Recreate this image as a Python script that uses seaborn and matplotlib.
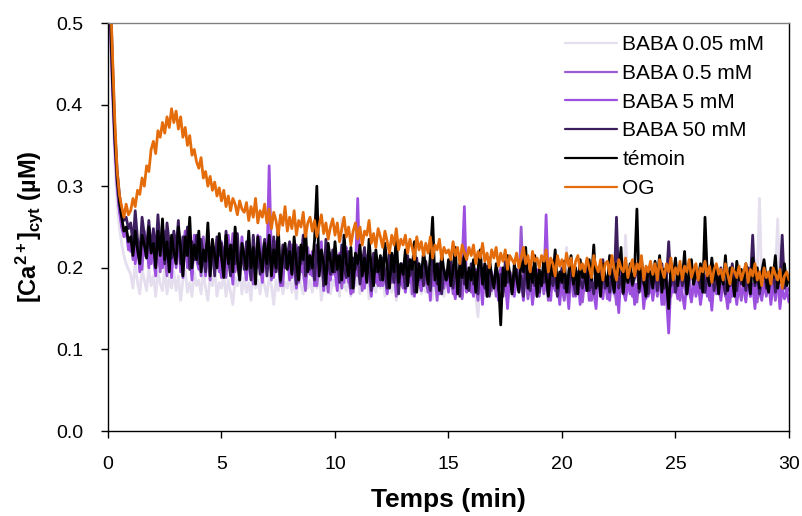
import numpy as np
import pandas as pd
import matplotlib
matplotlib.use("Agg")
import matplotlib.pyplot as plt
import seaborn as sns

# time axis (min), one sample every 0.1 min; values below in nM (thousandths of µM)
temps = np.round(np.arange(0, 30.0001, 0.1), 2)

temoin = [
    620, 520, 430, 360, 310, 280, 262, 245, 250, 232,
    238, 215, 245, 222, 205, 240, 228, 212, 250, 218,
    230, 200, 245, 215, 260, 210, 232, 195, 240, 220,
    205, 250, 225, 190, 238, 215, 262, 200, 228, 210,
    245, 195, 222, 208, 255, 190, 235, 215, 200, 242,
    212, 188, 240, 205, 228, 195, 250, 210, 185, 230,
    215, 198, 245, 200, 225, 180, 238, 212, 195, 230,
    205, 240, 190, 222, 200, 252, 185, 215, 230, 198,
    220, 192, 238, 205, 185, 228, 210, 248, 195, 215,
    200, 235, 300, 190, 222, 205, 180, 230, 208, 195,
    232, 198, 215, 185, 240, 205, 190, 225, 175, 218,
    205, 228, 190, 212, 182, 235, 200, 178, 222, 195,
    215, 185, 230, 200, 175, 218, 195, 240, 182, 205,
    192, 222, 178, 210, 198, 232, 170, 205, 188, 220,
    200, 180, 215, 262, 185, 205, 172, 220, 195, 185,
    210, 178, 198, 225, 168, 205, 188, 215, 175, 200,
    185, 210, 170, 198, 222, 180, 205, 165, 212, 190,
    175, 205, 185, 130, 200, 178, 215, 190, 168, 205,
    188, 170, 210, 195, 225, 175, 200, 182, 215, 165,
    198, 178, 212, 188, 165, 205, 190, 222, 175, 195,
    182, 208, 170, 195, 215, 180, 200, 168, 210, 188,
    195, 172, 210, 185, 228, 175, 198, 165, 205, 190,
    178, 215, 188, 170, 205, 192, 225, 170, 198, 182,
    205, 180, 198, 272, 175, 210, 185, 165, 200, 192,
    175, 208, 188, 215, 170, 198, 182, 150, 205, 190,
    212, 178, 200, 185, 220, 168, 195, 210, 180, 198,
    185, 205, 170, 262, 190, 178, 212, 185, 200, 168,
    195, 180, 215, 172, 200, 188, 165, 208, 185, 198,
    178, 205, 190, 168, 212, 182, 200, 175, 195, 210,
    185, 170, 200, 188, 215, 175, 195, 182, 205, 178,
    190,
]

baba_50 = [
    630, 540, 450, 370, 320, 290, 270, 258, 262, 248,
    255, 228, 270, 235, 215, 262, 240, 225, 258, 220,
    248, 215, 265, 225, 240, 205, 255, 230, 212, 245,
    222, 258, 205, 238, 215, 250, 198, 232, 210, 240,
    205, 235, 218, 195, 245, 210, 228, 190, 238, 215,
    230, 200, 245, 212, 190, 228, 205, 242, 195, 220,
    198, 232, 210, 185, 240, 205, 225, 192, 215, 235,
    190, 220, 205, 238, 195, 212, 182, 228, 200, 215,
    232, 195, 212, 180, 225, 205, 240, 190, 215, 198,
    210, 185, 228, 200, 218, 178, 235, 205, 192, 222,
    195, 215, 182, 228, 200, 188, 220, 175, 212, 198,
    215, 180, 205, 225, 190, 210, 172, 218, 195, 205,
    185, 212, 195, 175, 220, 200, 182, 210, 168, 205,
    198, 175, 215, 190, 205, 170, 212, 185, 200, 178,
    208, 188, 172, 215, 195, 180, 205, 168, 198, 185,
    192, 210, 175, 200, 185, 165, 212, 180, 195, 172,
    205, 180, 195, 168, 210, 185, 175, 202, 165, 190,
    180, 200, 172, 192, 165, 208, 182, 195, 170, 188,
    198, 175, 190, 165, 205, 182, 172, 200, 178, 192,
    170, 195, 182, 205, 168, 190, 178, 198, 165, 185,
    200, 175, 190, 170, 205, 182, 168, 195, 185, 175,
    190, 205, 172, 185, 168, 200, 178, 192, 210, 175,
    185, 170, 198, 180, 262, 175, 190, 168, 205, 182,
    195, 178, 188, 205, 170, 192, 180, 200, 168, 190,
    180, 198, 172, 190, 205, 175, 185, 232, 178, 195,
    170, 188, 200, 178, 195, 168, 185, 205, 180, 192,
    188, 175, 198, 170, 192, 182, 205, 172, 190, 178,
    200, 182, 168, 195, 178, 205, 185, 172, 198, 180,
    190, 172, 200, 185, 240, 178, 195, 168, 188, 202,
    175, 192, 180, 198, 170, 188, 182, 240, 175, 190,
    185,
]

baba_5 = [
    600, 500, 420, 350, 300, 270, 250, 240, 245, 228,
    220, 248, 205, 235, 195, 242, 215, 230, 200, 238,
    212, 190, 240, 218, 200, 245, 208, 225, 188, 232,
    205, 238, 195, 220, 245, 200, 228, 185, 240, 210,
    198, 230, 215, 190, 242, 205, 222, 195, 235, 210,
    188, 225, 200, 240, 208, 180, 230, 212, 195, 238,
    205, 185, 225, 200, 218, 190, 240, 205, 182, 222,
    200, 325, 210, 188, 232, 205, 178, 225, 200, 215,
    185, 228, 200, 175, 215, 195, 235, 180, 208, 192,
    220, 178, 205, 190, 232, 172, 210, 198, 185, 215,
    195, 172, 218, 200, 182, 225, 190, 168, 210, 195,
    285, 185, 205, 175, 215, 190, 165, 208, 182, 200,
    178, 210, 190, 168, 205, 185, 215, 172, 198, 180,
    205, 170, 192, 182, 210, 165, 198, 185, 172, 205,
    182, 195, 160, 205, 178, 190, 168, 212, 180, 192,
    170, 200, 178, 162, 195, 182, 205, 275, 170, 190,
    185, 165, 198, 175, 190, 155, 205, 180, 168, 195,
    178, 192, 160, 200, 172, 185, 150, 195, 178, 165,
    195, 172, 185, 160, 205, 178, 190, 155, 182, 198,
    165, 190, 175, 265, 180, 160, 195, 172, 185, 155,
    190, 168, 182, 150, 198, 175, 165, 190, 155, 185,
    172, 195, 160, 182, 170, 150, 192, 178, 162, 188,
    175, 160, 190, 168, 182, 145, 195, 172, 160, 185,
    168, 188, 155, 180, 172, 192, 150, 178, 165, 185,
    160, 182, 170, 190, 155, 178, 165, 120, 185, 170,
    178, 162, 190, 168, 150, 185, 172, 160, 188, 165,
    182, 155, 175, 190, 165, 180, 148, 185, 170, 178,
    160, 185, 172, 150, 190, 165, 178, 155, 182, 168,
    175, 158, 188, 165, 180, 150, 185, 170, 160, 182,
    168, 185, 155, 178, 165, 190, 150, 175, 162, 172,
    158,
]

baba_05 = [
    610, 510, 425, 355, 305, 272, 255, 238, 248, 222,
    235, 210, 240, 218, 228, 198, 245, 212, 225, 205,
    240, 205, 222, 195, 235, 212, 190, 230, 208, 242,
    200, 225, 210, 188, 240, 205, 218, 192, 232, 210,
    225, 190, 238, 205, 212, 185, 230, 200, 220, 195,
    232, 205, 188, 225, 210, 242, 195, 215, 185, 228,
    210, 192, 230, 205, 180, 222, 200, 238, 190, 212,
    198, 225, 185, 215, 200, 235, 192, 178, 220, 205,
    215, 188, 205, 228, 182, 210, 195, 172, 225, 200,
    190, 215, 178, 205, 225, 185, 200, 170, 218, 192,
    208, 185, 200, 175, 220, 195, 182, 212, 170, 200,
    190, 205, 172, 198, 185, 215, 168, 200, 188, 178,
    202, 178, 195, 170, 210, 182, 198, 165, 192, 185,
    175, 200, 182, 208, 168, 190, 178, 205, 172, 195,
    185, 170, 198, 178, 192, 160, 205, 182, 175, 195,
    180, 195, 168, 188, 175, 205, 162, 190, 178, 185,
    170, 192, 180, 160, 198, 175, 188, 165, 195, 172,
    190, 165, 182, 198, 170, 185, 158, 195, 178, 168,
    185, 172, 250, 175, 190, 162, 185, 178, 195, 165,
    178, 192, 168, 185, 160, 198, 175, 182, 165, 190,
    175, 160, 188, 172, 195, 165, 182, 170, 190, 158,
    185, 172, 195, 160, 180, 170, 192, 165, 178, 185,
    162, 190, 175, 182, 155, 192, 170, 185, 165, 178,
    190, 165, 180, 158, 188, 172, 195, 162, 182, 170,
    178, 190, 165, 185, 170, 155, 188, 175, 165, 192,
    170, 182, 160, 195, 175, 168, 185, 158, 180, 172,
    188, 165, 180, 170, 192, 160, 182, 175, 168, 190,
    172, 185, 165, 178, 158, 190, 170, 182, 175, 160,
    185, 170, 192, 165, 180, 175, 158, 188, 170, 182,
    165, 180, 172, 188, 160, 182, 175, 168, 190, 170,
    175,
]

baba_005 = [
    600, 490, 400, 330, 280, 250, 230, 215, 205, 198,
    192, 175, 205, 182, 168, 198, 185, 172, 200, 178,
    190, 165, 195, 180, 172, 200, 168, 188, 175, 195,
    172, 190, 160, 185, 198, 170, 182, 165, 195, 178,
    185, 168, 195, 175, 160, 190, 178, 198, 165, 182,
    175, 192, 165, 185, 170, 155, 188, 178, 195, 168,
    188, 170, 182, 160, 198, 175, 185, 168, 192, 178,
    165, 190, 178, 155, 185, 172, 195, 168, 182, 175,
    192, 170, 185, 162, 198, 178, 168, 190, 175, 185,
    170, 188, 175, 195, 160, 182, 172, 190, 168, 185,
    178, 195, 165, 260, 180, 172, 192, 165, 185, 178,
    190, 168, 182, 175, 195, 162, 185, 178, 170, 192,
    175, 188, 165, 182, 198, 170, 185, 160, 190, 178,
    182, 170, 192, 175, 165, 188, 178, 195, 168, 182,
    170, 188, 175, 162, 195, 180, 172, 188, 165, 185,
    192, 175, 182, 168, 190, 178, 165, 185, 175, 195,
    172, 185, 165, 140, 188, 178, 170, 192, 180, 168,
    185, 175, 192, 168, 182, 170, 188, 178, 165, 190,
    178, 192, 170, 185, 175, 195, 168, 182, 172, 188,
    170, 185, 178, 192, 165, 182, 175, 190, 170, 185,
    188, 175, 225, 170, 185, 178, 192, 168, 182, 175,
    180, 195, 170, 185, 172, 190, 178, 168, 188, 180,
    172, 188, 180, 165, 195, 175, 185, 170, 240, 178,
    190, 175, 185, 168, 182, 195, 172, 188, 178, 170,
    185, 172, 192, 180, 168, 188, 175, 182, 170, 192,
    178, 190, 170, 185, 175, 165, 188, 180, 192, 172,
    182, 170, 188, 175, 195, 180, 168, 190, 175, 185,
    175, 192, 180, 168, 185, 178, 190, 172, 182, 195,
    170, 185, 175, 190, 180, 168, 188, 285, 178, 185,
    192, 175, 185, 170, 188, 260, 178, 182, 172, 190,
    182,
]

og = [
    620, 540, 460, 380, 320, 290, 275, 262, 278, 265,
    270, 285, 275, 295, 290, 310, 300, 325, 318, 345,
    355, 340, 368, 360, 378, 365, 385, 372, 395, 378,
    392, 370, 385, 360, 372, 350, 362, 338, 345, 330,
    322, 335, 310, 318, 300, 312, 295, 305, 288, 298,
    282, 295, 275, 288, 270, 285, 278, 265, 282, 272,
    268, 280, 258, 275, 262, 285, 255, 270, 262, 278,
    255, 272, 248, 268, 258, 240, 265, 252, 275, 245,
    262, 248, 270, 240, 258, 250, 268, 238, 255, 262,
    245, 258, 238, 252, 265, 242, 255, 235, 250, 260,
    240, 255, 232, 248, 262, 238, 250, 228, 245, 255,
    235, 250, 228, 245, 240, 258, 230, 242, 225, 248,
    238, 225, 245, 232, 218, 240, 228, 248, 222, 235,
    228, 240, 218, 235, 225, 210, 238, 222, 232, 215,
    230, 218, 238, 212, 228, 222, 235, 210, 225, 218,
    222, 210, 232, 215, 225, 205, 228, 218, 210, 225,
    215, 228, 205, 220, 212, 230, 208, 218, 200, 222,
    212, 225, 202, 218, 208, 222, 198, 215, 210, 205,
    218, 200, 212, 225, 205, 215, 195, 220, 208, 212,
    200, 215, 208, 222, 195, 212, 205, 190, 215, 202,
    210, 195, 218, 202, 212, 190, 208, 215, 198, 205,
    195, 212, 200, 188, 215, 202, 195, 210, 185, 205,
    208, 192, 215, 198, 185, 210, 200, 195, 212, 188,
    200, 210, 190, 205, 198, 215, 185, 202, 195, 208,
    192, 205, 185, 210, 198, 188, 205, 195, 212, 185,
    200, 192, 208, 185, 202, 195, 210, 188, 198, 205,
    185, 200, 195, 208, 190, 202, 182, 198, 205, 192,
    198, 185, 205, 192, 180, 200, 195, 188, 202, 185,
    195, 205, 182, 198, 190, 205, 185, 195, 178, 200,
    188, 195, 180, 200, 192, 185, 198, 175, 190, 195,
    185,
]

series_names = ["BABA 0.05 mM", "BABA 0.5 mM", "BABA 5 mM", "BABA 50 mM", "témoin", "OG"]
series_values = [baba_005, baba_05, baba_5, baba_50, temoin, og]
colors = ["#e4deee", "#9b5ad2", "#9d4fe0", "#3c1d5e", "#000000", "#e46c0a"]

x_ticks = [0, 5, 10, 15, 20, 25, 30]
y_ticks = [0.0, 0.1, 0.2, 0.3, 0.4, 0.5]

frames = []
for name, vals in zip(series_names, series_values):
    assert len(vals) == len(temps), (name, len(vals))
    frames.append(pd.DataFrame({"Temps": temps,
                                "Ca": np.asarray(vals, dtype=float) / 1000.0,
                                "serie": name}))
df = pd.concat(frames, ignore_index=True)

sns.set_style("ticks")
plt.rcParams["font.family"] = ["Liberation Sans", "DejaVu Sans"]
plt.rcParams["mathtext.fontset"] = "custom"
plt.rcParams["mathtext.rm"] = "Liberation Sans"
plt.rcParams["mathtext.bf"] = "Liberation Sans:bold"
plt.rcParams["mathtext.it"] = "Liberation Sans:italic"
plt.rcParams["text.color"] = "black"
plt.rcParams["axes.labelcolor"] = "black"

fig = plt.figure(figsize=(8.03, 5.16), dpi=100)
ax = fig.add_axes([108 / 803, 85 / 516, 681 / 803, 408 / 516])

sns.lineplot(data=df, x="Temps", y="Ca", hue="serie", hue_order=series_names,
             palette=dict(zip(series_names, colors)), estimator=None, sort=False,
             linewidth=2.0, ax=ax)

ax.set_xlim(0, 30)
ax.set_ylim(0, 0.5)
ax.set_xticks(x_ticks)
ax.set_xticklabels([str(v) for v in x_ticks])
ax.set_yticks(y_ticks)
ax.set_yticklabels([f"{v:.1f}" for v in y_ticks])
ax.tick_params(axis="both", direction="out", length=5, width=1, labelsize=14,
               colors="#000000", labelcolor="#000000")
ax.tick_params(axis="x", pad=13)
ax.tick_params(axis="y", pad=13)

for side in ["left", "bottom", "right"]:
    ax.spines[side].set_visible(True)
    ax.spines[side].set_color("#000000")
    ax.spines[side].set_linewidth(1.0)
ax.spines["top"].set_visible(True)
ax.spines["top"].set_color("#808080")
ax.spines["top"].set_linewidth(1.0)

ax.set_xlabel("Temps (min)", fontsize=19, fontweight="bold", labelpad=11,
              color="black")
ax.set_ylabel(r"[Ca$^{\mathbf{2+}}$]$_{\mathbf{cyt}}$ (µM)", fontsize=17,
              fontweight="bold", labelpad=8, color="black")

handles, labels = ax.get_legend_handles_labels()
leg = ax.legend(handles, labels, loc="upper left",
                bbox_to_anchor=((565 - 108) / 681, (431 - 35) / 408),
                frameon=False, fontsize=15, handlelength=2.5,
                handletextpad=0.25, labelspacing=0.47, borderpad=0,
                borderaxespad=0)
for line in leg.get_lines():
    line.set_linewidth(1.6)

fig.savefig("out.png", dpi=100)
